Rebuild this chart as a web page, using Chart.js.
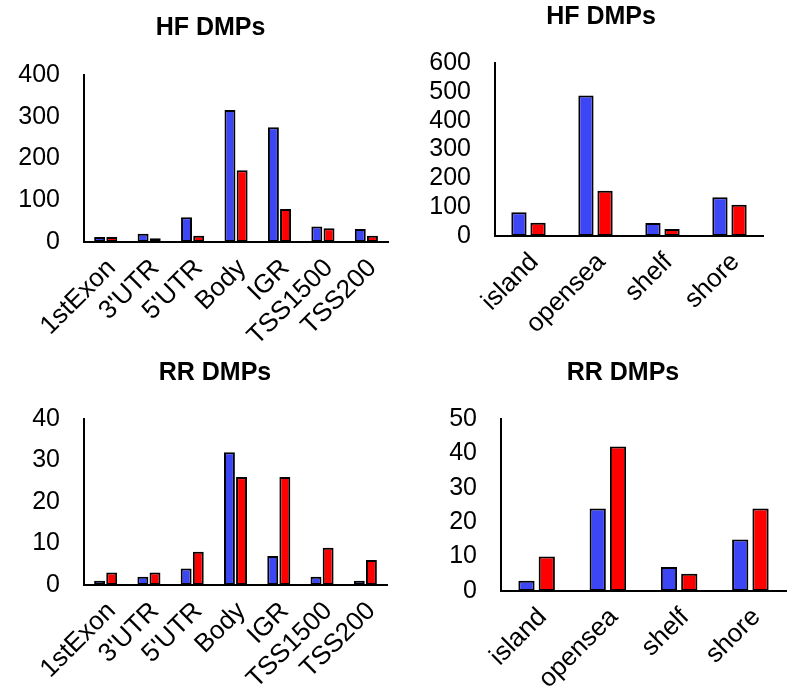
<!DOCTYPE html>
<html>
<head>
<meta charset="utf-8">
<script src="https://cdn.jsdelivr.net/npm/chart.js@4.4.1/dist/chart.umd.min.js"></script>
<style>
  body { margin: 0; background: #fff; width: 795px; height: 698px; position: relative; overflow: hidden; }
  canvas { position: absolute; }
</style>
</head>
<body>
<canvas id="hfGene"></canvas>
<canvas id="hfIsland"></canvas>
<canvas id="rrGene"></canvas>
<canvas id="rrIsland"></canvas>
<script>
// categories
const geneRegions = ['1stExon', "3'UTR", "5'UTR", 'Body', 'IGR', 'TSS1500', 'TSS200'];
const islandRegions = ['island', 'opensea', 'shelf', 'shore'];

// series values (blue / red)
const hfGeneBlue = [12, 20, 59, 316, 275, 37, 31];
const hfGeneRed = [12, 9, 15, 172, 79, 33, 15];
const hfIslandBlue = [82, 487, 45, 134];
const hfIslandRed = [46, 157, 24, 108];
const rrGeneBlue = [1, 2, 4, 32, 7, 2, 1];
const rrGeneRed = [3, 3, 8, 26, 26, 9, 6];
const rrIslandBlue = [3, 24, 7, 15];
const rrIslandRed = [10, 42, 5, 24];

// y tick labels
const hfGeneTicks = [0, 100, 200, 300, 400];
const hfIslandTicks = [0, 100, 200, 300, 400, 500, 600];
const rrGeneTicks = [0, 10, 20, 30, 40];
const rrIslandTicks = [0, 10, 20, 30, 40, 50];

const BLUE = '#3c46f5';
const RED = '#ff0000';
const FONT = '"Liberation Sans", Arial, sans-serif';

// simple title drawn at a fixed spot, Excel-like
const titlePlugin = {
  id: 'panelTitle',
  afterDraw(chart, args, opts) {
    const ctx = chart.ctx;
    ctx.save();
    ctx.font = 'bold 25px ' + FONT;
    ctx.fillStyle = '#000';
    ctx.textAlign = 'center';
    ctx.textBaseline = 'alphabetic';
    ctx.fillText(opts.text, opts.x, opts.y);
    ctx.restore();
  }
};

function drawPanel(id, box, plot, labels, blueVals, redVals, ticks, title, bars) {
  const canvas = document.getElementById(id);
  canvas.width = box.w;
  canvas.height = box.h;
  canvas.style.left = box.x + 'px';
  canvas.style.top = box.y + 'px';
  const xAxisH = box.y + box.h - plot.bottom;

  const ds = (vals, color) => ({
    data: vals,
    backgroundColor: color,
    borderColor: '#000',
    borderWidth: 2,
    borderSkipped: false,
    categoryPercentage: bars.cat,
    barPercentage: bars.bar
  });

  new Chart(canvas, {
    type: 'bar',
    data: {
      labels: labels,
      datasets: [ds(blueVals, BLUE), ds(redVals, RED)]
    },
    options: {
      responsive: false,
      animation: false,
      devicePixelRatio: 1,
      layout: {
        padding: { left: 0, top: plot.top - box.y, right: box.x + box.w - plot.right, bottom: 0 }
      },
      plugins: {
        legend: { display: false },
        tooltip: { enabled: false },
        panelTitle: { text: title.text, x: title.x - box.x, y: title.y - box.y }
      },
      scales: {
        x: {
          grid: { display: false, drawTicks: false },
          border: { display: true, color: '#000', width: 2 },
          ticks: {
            color: '#000',
            font: { family: FONT, size: 26 },
            minRotation: 45,
            maxRotation: 45,
            autoSkip: false,
            padding: 11,
            labelOffset: 6
          },
          afterFit(s) { s.height = xAxisH; }
        },
        y: {
          min: ticks[0],
          max: ticks[ticks.length - 1],
          grid: { display: false, drawTicks: false },
          border: { display: true, color: '#000', width: 2 },
          ticks: {
            stepSize: ticks[1] - ticks[0],
            autoSkip: false,
            color: '#000',
            font: { family: FONT, size: 25 },
            padding: 24
          },
          afterFit(s) { s.width = plot.left - box.x; }
        }
      }
    },
    plugins: [titlePlugin]
  });
}

drawPanel('hfGene',
  { x: 0, y: 0, w: 400, h: 352 },
  { left: 84, right: 392, top: 75, bottom: 242 },
  geneRegions, hfGeneBlue, hfGeneRed, hfGeneTicks,
  { text: 'HF DMPs', x: 210.5, y: 35 },
  { cat: 0.56, bar: 0.9 });

drawPanel('hfIsland',
  { x: 400, y: 0, w: 395, h: 350 },
  { left: 495, right: 763, top: 63, bottom: 236 },
  islandRegions, hfIslandBlue, hfIslandRed, hfIslandTicks,
  { text: 'HF DMPs', x: 601, y: 23.5 },
  { cat: 0.57, bar: 0.8 });

drawPanel('rrGene',
  { x: 0, y: 340, w: 400, h: 358 },
  { left: 84, right: 387, top: 419, bottom: 585 },
  geneRegions, rrGeneBlue, rrGeneRed, rrGeneTicks,
  { text: 'RR DMPs', x: 215, y: 380 },
  { cat: 0.56, bar: 0.9 });

drawPanel('rrIsland',
  { x: 400, y: 340, w: 395, h: 358 },
  { left: 501, right: 786, top: 419, bottom: 591 },
  islandRegions, rrIslandBlue, rrIslandRed, rrIslandTicks,
  { text: 'RR DMPs', x: 623, y: 380 },
  { cat: 0.57, bar: 0.8 });
</script>
</body>
</html>
